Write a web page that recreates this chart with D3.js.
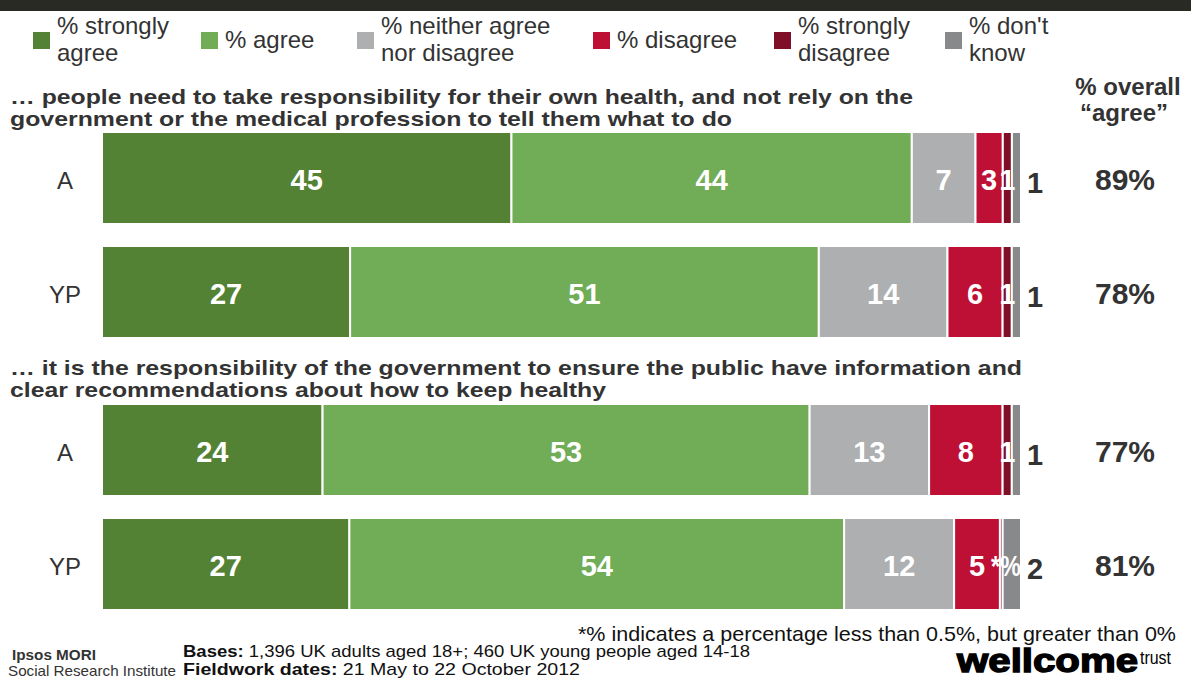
<!DOCTYPE html>
<html>
<head>
<meta charset="utf-8">
<script src="https://cdn.jsdelivr.net/npm/d3@7"></script>
<style>
  html, body { margin: 0; padding: 0; background: #fff; }
  svg { display: block; }
  text { font-family: "Liberation Sans", Arial, sans-serif; }
</style>
</head>
<body>
<div id="chart"></div>
<script>
// ---------- data ----------
const categories = ["strongly agree", "agree", "neither", "disagree", "strongly disagree", "don't know"];
const legendLabels = [["% strongly", "agree"], ["% agree"], ["% neither agree", "nor disagree"], ["% disagree"], ["% strongly", "disagree"], ["% don't", "know"]];
const colors = ["#548235", "#71ac56", "#aeafb1", "#be1035", "#7f0f27", "#88898b"];

const statement1 = ["… people need to take responsibility for their own health, and not rely on the",
                    "government or the medical profession to tell them what to do"];
const statement2 = ["… it is the responsibility of the government to ensure the public have information and",
                    "clear recommendations about how to keep healthy"];

const rowLabels = ["A", "YP", "A", "YP"];
const stronglyAgree    = [45, 27, 24, 27];
const agree            = [44, 51, 53, 54];
const neither          = [7, 14, 13, 12];
const disagree         = [3, 6, 8, 5];
const stronglyDisagree = [1, 1, 1, 0.3];
const dontKnow         = [1, 1, 1, 2];
const stronglyDisagreeLabels = ["1", "1", "1", "*%"];
const overallAgree = ["89%", "78%", "77%", "81%"];

const footnote = "*% indicates a percentage less than 0.5%, but greater than 0%";

// ---------- build ----------
const W = 1191, H = 679;
const svg = d3.select("#chart").append("svg").attr("width", W).attr("height", H);

const table = rowLabels.map((r, i) => ({
  row: i,
  "strongly agree": stronglyAgree[i],
  "agree": agree[i],
  "neither": neither[i],
  "disagree": disagree[i],
  "strongly disagree": stronglyDisagree[i],
  "don't know": dontKnow[i]
}));
const labelFor = (k, i) => {
  if (k === 4) return stronglyDisagreeLabels[i];
  return String([stronglyAgree, agree, neither, disagree, stronglyDisagree, dontKnow][k][i]);
};

const stack = d3.stack().keys(categories).offset(d3.stackOffsetExpand);
const series = stack(table);

const x = d3.scaleLinear().domain([0, 1]).range([102, 1021]);
const yA = d3.scaleBand().domain([0, 1]).range([132, 338]).paddingInner(22 / 114).paddingOuter(0);
const yB = d3.scaleBand().domain([2, 3]).range([404, 610]).paddingInner(22 / 114).paddingOuter(0);
const y = i => (i < 2 ? yA(i) : yB(i));
const bh = yA.bandwidth();

// banner
svg.append("rect").attr("x", 0).attr("y", 0).attr("width", W).attr("height", 11).attr("fill", "#2a2a24");

// legend
const legendX = [33, 201, 357, 593, 774, 945];
const lg = svg.append("g");
legendLabels.forEach((lines, k) => {
  lg.append("rect").attr("x", legendX[k]).attr("y", 32).attr("width", 17).attr("height", 17).attr("fill", colors[k]);
  const t = lg.append("text").attr("font-size", 24).attr("fill", "#333");
  if (lines.length === 1) {
    t.append("tspan").attr("x", legendX[k] + 24).attr("y", 48).text(lines[0]);
  } else {
    t.append("tspan").attr("x", legendX[k] + 24).attr("y", 34).text(lines[0]);
    t.append("tspan").attr("x", legendX[k] + 24).attr("y", 61).text(lines[1]);
  }
});

// statements
function heading(lines, baselines, widths) {
  lines.forEach((l, j) => {
    svg.append("text").attr("x", 10).attr("y", baselines[j])
      .attr("font-size", 21).attr("font-weight", "bold").attr("fill", "#333")
      .attr("textLength", widths[j]).attr("lengthAdjust", "spacingAndGlyphs")
      .text(l);
  });
}
heading(statement1, [104, 126], [903, 722]);
heading(statement2, [375, 397], [1012, 596]);

// right header
svg.append("text").attr("x", 1128).attr("y", 95).attr("text-anchor", "middle")
  .attr("font-size", 24).attr("font-weight", "bold").attr("fill", "#333").text("% overall");
svg.append("text").attr("x", 1124).attr("y", 121).attr("text-anchor", "middle")
  .attr("font-size", 24).attr("font-weight", "bold").attr("fill", "#333").text("“agree”");

// bars
const segG = svg.append("g");
series.forEach((s, k) => {
  segG.selectAll(null).data(s).enter().append("rect")
    .attr("x", d => x(d[0]))
    .attr("y", d => y(d.data.row))
    .attr("width", d => x(d[1]) - x(d[0]))
    .attr("height", bh)
    .attr("fill", colors[k])
    .attr("stroke", "#fff").attr("stroke-width", 2);
});

// in-bar labels (white) for first five categories
series.forEach((s, k) => {
  if (k === 5) return;
  segG.selectAll(null).data(s).enter().append("text")
    .attr("x", d => {
      const w = x(d[1]) - x(d[0]);
      return w < 5 ? x(d[0]) - 9 : (x(d[0]) + x(d[1])) / 2;
    })
    .attr("text-anchor", d => (x(d[1]) - x(d[0]) < 5 ? "start" : "middle"))
    .attr("y", d => y(d.data.row) + bh / 2 + 12)
    .attr("font-size", 29).attr("font-weight", "bold").attr("fill", "#fff")
    .text(d => labelFor(k, d.data.row))
    .each(function(d) {
      if (x(d[1]) - x(d[0]) < 5) d3.select(this).attr("textLength", 30).attr("lengthAdjust", "spacingAndGlyphs");
    });
});

// don't know labels outside
segG.selectAll(null).data(series[5]).enter().append("text")
  .attr("x", d => x(d[1]) + 6)
  .attr("y", d => y(d.data.row) + bh / 2 + 15)
  .attr("font-size", 29).attr("font-weight", "bold").attr("fill", "#333")
  .text(d => labelFor(5, d.data.row));

// row labels
rowLabels.forEach((r, i) => {
  svg.append("text").attr("x", 65).attr("y", y(i) + bh / 2 + 11).attr("text-anchor", "middle")
    .attr("font-size", 24).attr("fill", "#333").text(r);
});

// overall agree
overallAgree.forEach((v, i) => {
  svg.append("text").attr("x", 1125).attr("y", y(i) + bh / 2 + 12).attr("text-anchor", "middle")
    .attr("font-size", 30).attr("font-weight", "bold").attr("fill", "#333").text(v);
});

// footnote
svg.append("text").attr("x", 578).attr("y", 641).attr("font-size", 21).attr("fill", "#111")
  .attr("textLength", 598).attr("lengthAdjust", "spacingAndGlyphs").text(footnote);

// footer
const bases = svg.append("text").attr("x", 183).attr("y", 657).attr("font-size", 17).attr("fill", "#111")
  .attr("textLength", 567).attr("lengthAdjust", "spacingAndGlyphs");
bases.append("tspan").attr("font-weight", "bold").text("Bases:");
bases.append("tspan").text(" 1,396 UK adults aged 18+; 460 UK young people aged 14-18");
const fw = svg.append("text").attr("x", 183).attr("y", 675).attr("font-size", 17).attr("fill", "#111")
  .attr("textLength", 397).attr("lengthAdjust", "spacingAndGlyphs");
fw.append("tspan").attr("font-weight", "bold").text("Fieldwork dates:");
fw.append("tspan").text(" 21 May to 22 October 2012");

svg.append("text").attr("x", 12).attr("y", 660).attr("font-size", 14).attr("font-weight", "bold")
  .attr("fill", "#333").attr("textLength", 84).attr("lengthAdjust", "spacingAndGlyphs").text("Ipsos MORI");
svg.append("text").attr("x", 8).attr("y", 676).attr("font-size", 15)
  .attr("fill", "#333").attr("textLength", 168).attr("lengthAdjust", "spacingAndGlyphs").text("Social Research Institute");

svg.append("text").attr("x", 957).attr("y", 672).attr("font-size", 33).attr("font-weight", "900")
  .attr("fill", "#000").attr("stroke", "#000").attr("stroke-width", 1.4)
  .attr("textLength", 181).attr("lengthAdjust", "spacingAndGlyphs").text("wellcome");
svg.append("text").attr("x", 1140).attr("y", 664).attr("font-size", 19)
  .attr("fill", "#000").attr("textLength", 31).attr("lengthAdjust", "spacingAndGlyphs").text("trust");
</script>
</body>
</html>
